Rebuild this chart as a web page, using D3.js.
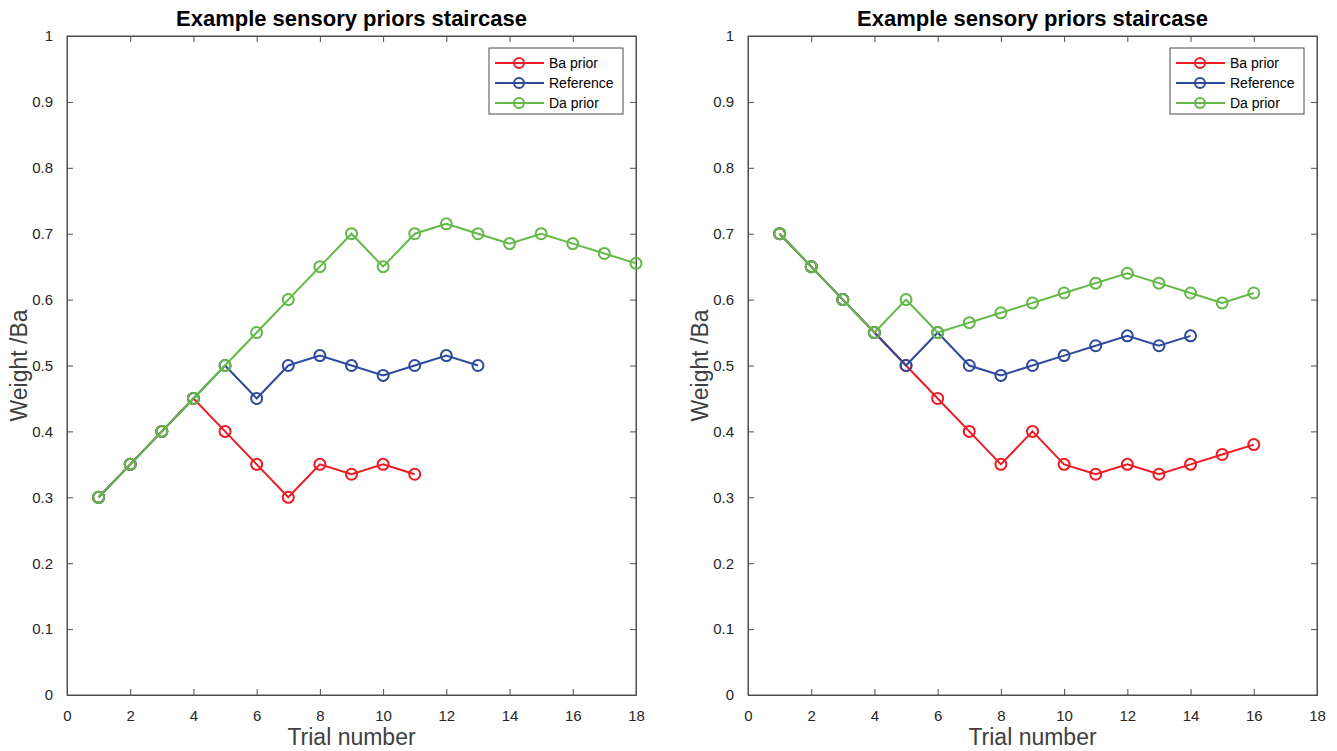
<!DOCTYPE html>
<html>
<head>
<meta charset="utf-8">
<script src="https://cdn.jsdelivr.net/npm/d3@7"></script>
<style>
  body { margin: 0; background: #fff; }
  svg { display: block; font-family: "Liberation Sans", Arial, sans-serif; }
</style>
</head>
<body>
<div id="chart"></div>
<script>
// left panel
const leftBa = [0.3, 0.35, 0.4, 0.45, 0.4, 0.35, 0.3, 0.35, 0.335, 0.35, 0.335];
const leftRef = [0.3, 0.35, 0.4, 0.45, 0.5, 0.45, 0.5, 0.515, 0.5, 0.485, 0.5, 0.515, 0.5];
const leftDa = [0.3, 0.35, 0.4, 0.45, 0.5, 0.55, 0.6, 0.65, 0.7, 0.65, 0.7, 0.715, 0.7, 0.685, 0.7, 0.685, 0.67, 0.655];

// right panel
const rightBa = [0.7, 0.65, 0.6, 0.55, 0.5, 0.45, 0.4, 0.35, 0.4, 0.35, 0.335, 0.35, 0.335, 0.35, 0.365, 0.38];
const rightRef = [0.7, 0.65, 0.6, 0.55, 0.5, 0.55, 0.5, 0.485, 0.5, 0.515, 0.53, 0.545, 0.53, 0.545];
const rightDa = [0.7, 0.65, 0.6, 0.55, 0.6, 0.55, 0.565, 0.58, 0.595, 0.61, 0.625, 0.64, 0.625, 0.61, 0.595, 0.61];

const seriesNames = ["Ba prior", "Reference", "Da prior"];
const seriesColors = ["#ed1c24", "#2e4b9b", "#63b946"];
const xTicks = [0, 2, 4, 6, 8, 10, 12, 14, 16, 18];
const yTicks = [0, 0.1, 0.2, 0.3, 0.4, 0.5, 0.6, 0.7, 0.8, 0.9, 1];

const titleText = "Example sensory priors staircase";
const xLabel = "Trial number";
const yLabel = "Weight /Ba";

const width = 1337, height = 751;
const axisColor = "#4d4d4d";

const svg = d3.select("#chart").append("svg")
  .attr("width", width)
  .attr("height", height);

function drawPanel(left, seriesList) {
  const plotW = 569, plotH = 659, top = 36;

  const x = d3.scaleLinear().domain([0, 18]).range([0, plotW]);
  const y = d3.scaleLinear().domain([0, 1]).range([plotH, 0]);

  const g = svg.append("g").attr("transform", `translate(${left}, ${top})`);

  // box
  g.append("rect")
    .attr("x", 0).attr("y", 0)
    .attr("width", plotW).attr("height", plotH)
    .attr("fill", "none")
    .attr("stroke", axisColor)
    .attr("stroke-width", 1);

  const xAxis = g.append("g")
    .attr("transform", `translate(0, ${plotH})`)
    .call(d3.axisBottom(x).tickValues(xTicks).tickSize(-6).tickPadding(15).tickFormat(d3.format("d")));
  const xTop = g.append("g")
    .call(d3.axisTop(x).tickValues(xTicks).tickSize(-6).tickFormat(""));
  const yAxis = g.append("g")
    .call(d3.axisLeft(y).tickValues(yTicks).tickSize(-6).tickPadding(14).tickFormat(d => d === 0 || d === 1 ? d3.format("d")(d) : d3.format(".1f")(d)));
  const yRight = g.append("g")
    .attr("transform", `translate(${plotW}, 0)`)
    .call(d3.axisRight(y).tickValues(yTicks).tickSize(-6).tickFormat(""));

  [xAxis, xTop, yAxis, yRight].forEach(a => {
    a.select(".domain").attr("stroke", axisColor);
    a.selectAll(".tick line").attr("stroke", axisColor);
    a.selectAll(".tick text")
      .attr("fill", "#262626")
      .style("font-size", "15px")
      .style("font-family", "Liberation Sans, Arial, sans-serif");
  });

  const line = d3.line()
    .x(d => x(d.trial))
    .y(d => y(d.value));

  seriesList.forEach((vals, i) => {
    const data = vals.map((v, k) => ({ trial: k + 1, value: v }));
    const s = g.append("g");
    s.append("path")
      .datum(data)
      .attr("d", line)
      .attr("fill", "none")
      .attr("stroke", seriesColors[i])
      .attr("stroke-width", 2);
    s.selectAll("circle")
      .data(data)
      .join("circle")
      .attr("cx", d => x(d.trial))
      .attr("cy", d => y(d.value))
      .attr("r", 5.5)
      .attr("fill", "none")
      .attr("stroke", seriesColors[i])
      .attr("stroke-width", 2);
  });

  // title
  g.append("text")
    .attr("x", plotW / 2)
    .attr("y", -10)
    .attr("text-anchor", "middle")
    .attr("font-weight", "bold")
    .attr("font-size", 22)
    .attr("fill", "#000")
    .text(titleText);

  // axis labels
  g.append("text")
    .attr("x", plotW / 2)
    .attr("y", plotH + 50)
    .attr("text-anchor", "middle")
    .attr("font-size", 23)
    .attr("fill", "#404040")
    .text(xLabel);

  g.append("text")
    .attr("transform", "rotate(-90)")
    .attr("x", -plotH / 2)
    .attr("y", -40)
    .attr("text-anchor", "middle")
    .attr("font-size", 23)
    .attr("fill", "#404040")
    .text(yLabel);

  // legend
  const lg = g.append("g").attr("transform", `translate(${plotW - 147}, 12)`);
  lg.append("rect")
    .attr("width", 134).attr("height", 66)
    .attr("fill", "#fff")
    .attr("stroke", axisColor)
    .attr("stroke-width", 1);
  seriesNames.forEach((name, i) => {
    const ry = 15 + i * 20;
    lg.append("line")
      .attr("x1", 6).attr("x2", 55)
      .attr("y1", ry).attr("y2", ry)
      .attr("stroke", seriesColors[i])
      .attr("stroke-width", 2);
    lg.append("circle")
      .attr("cx", 30).attr("cy", ry).attr("r", 5)
      .attr("fill", "none")
      .attr("stroke", seriesColors[i])
      .attr("stroke-width", 2);
    lg.append("text")
      .attr("x", 60).attr("y", ry + 5)
      .attr("font-size", 14)
      .attr("fill", "#000")
      .text(name);
  });
}

drawPanel(67, [leftBa, leftRef, leftDa]);
drawPanel(748, [rightBa, rightRef, rightDa]);
</script>
</body>
</html>
